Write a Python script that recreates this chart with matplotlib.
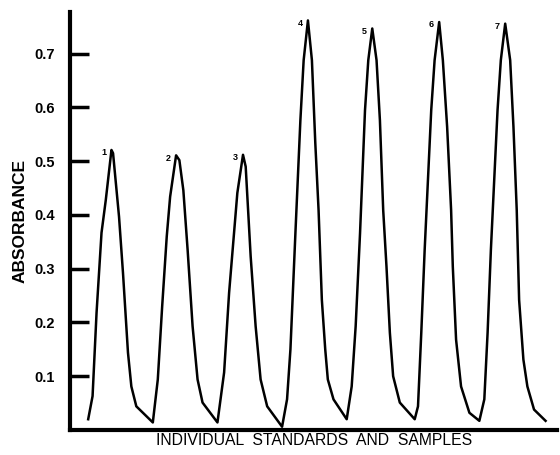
import numpy as np
from matplotlib import pyplot as plt

plt.rcParams['font.family'] = ['Liberation Sans', 'DejaVu Sans']

# trace (time in arbitrary units)
time = [18.3, 22.7, 26.7, 31.7, 36.0, 41.7, 43.3, 49.3, 53.3, 58.3, 61.7, 66.7, 83.3,
        88.3, 92.7, 97.3, 100.7, 106.7, 110.0, 114.0, 118.3, 123.3, 128.3, 133.3, 148.3,
        155.0, 160.0, 165.0, 168.3, 174.0, 176.7, 181.7, 186.7, 191.7, 198.3, 213.3,
        218.3, 221.7, 226.7, 231.7, 235.0, 239.3, 243.3, 246.7, 250.0, 253.3, 256.7, 259.3, 265.0, 278.3,
        283.3, 287.3, 291.7, 296.7, 300.0, 304.0, 308.3, 311.7, 315.0, 318.3, 321.7, 325.0, 331.7, 346.7,
        350.0, 353.3, 356.7, 363.3, 366.7, 371.3, 375.0, 379.3, 383.3, 385.0, 388.3, 393.3, 401.7, 411.7,
        416.7, 420.0, 423.3, 430.0, 433.3, 437.7, 442.7, 446.0, 449.3, 451.7, 456.0, 460.0, 466.7, 478.3]
absorbance = [0.020, 0.063, 0.218, 0.367, 0.428, 0.521, 0.515, 0.397, 0.292, 0.144, 0.081, 0.044, 0.014,
              0.094, 0.230, 0.360, 0.434, 0.511, 0.502, 0.446, 0.335, 0.193, 0.094, 0.051, 0.014,
              0.107, 0.255, 0.367, 0.441, 0.512, 0.490, 0.323, 0.193, 0.094, 0.044, 0.006,
              0.057, 0.150, 0.366, 0.576, 0.688, 0.762, 0.688, 0.534, 0.409, 0.242, 0.150, 0.094, 0.057, 0.020,
              0.081, 0.193, 0.366, 0.595, 0.688, 0.747, 0.688, 0.576, 0.409, 0.304, 0.181, 0.100, 0.051, 0.020,
              0.044, 0.181, 0.335, 0.595, 0.688, 0.759, 0.688, 0.564, 0.409, 0.304, 0.168, 0.081, 0.032, 0.017,
              0.057, 0.181, 0.335, 0.595, 0.688, 0.756, 0.688, 0.564, 0.409, 0.242, 0.131, 0.081, 0.038, 0.017]

peak_labels = ['1', '2', '3', '4', '5', '6', '7']
peak_time = [41.7, 106.7, 174.0, 239.3, 304.0, 371.3, 437.7]
peak_height = [0.521, 0.511, 0.512, 0.762, 0.747, 0.759, 0.756]

yticks = [0.1, 0.2, 0.3, 0.4, 0.5, 0.6, 0.7]

fig = plt.figure(figsize=(5.6, 4.55), dpi=100)
ax = fig.add_axes([0.125, 0.055, 0.87, 0.919])

ax.plot(time, absorbance, color='black', lw=1.8, solid_joinstyle='round')

for lab, t, h in zip(peak_labels, peak_time, peak_height):
    ax.text(t - 8, h - 0.005, lab, fontsize=6.5, fontweight='bold', ha='center', va='center')

ax.set_xlim(0, 490)
ax.set_ylim(0, 0.778)
ax.set_yticks(yticks)
ax.set_yticklabels(['%.1f' % v for v in yticks], fontsize=10.5, fontweight='bold')
ax.set_xticks([])
ax.tick_params(axis='y', direction='in', length=14, width=2.5, pad=11)

for s in ['top', 'right']:
    ax.spines[s].set_visible(False)
ax.spines['left'].set_linewidth(3)
ax.spines['bottom'].set_linewidth(3)

ax.set_ylabel('ABSORBANCE', fontsize=12.5, fontweight='bold', labelpad=5)
ax.set_xlabel('INDIVIDUAL  STANDARDS  AND  SAMPLES', fontsize=11.3, labelpad=2)

fig.savefig('out.png', dpi=100)
